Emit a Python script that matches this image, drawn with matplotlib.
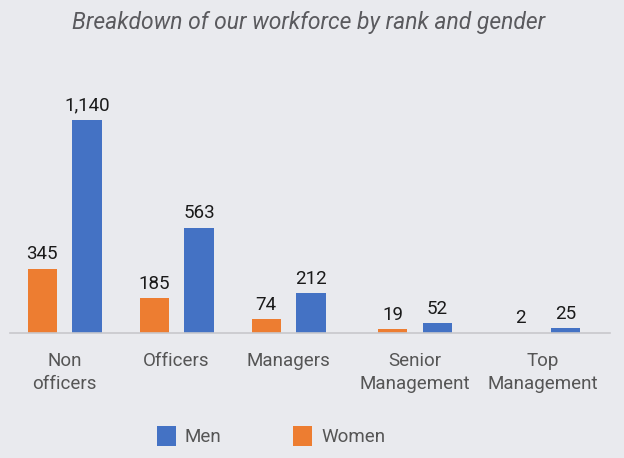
import matplotlib
matplotlib.use("Agg")
from matplotlib import pyplot as plt

# Data
categories = ["Non\nofficers", "Officers", "Managers", "Senior\nManagement", "Top\nManagement"]
women = [345, 185, 74, 19, 2]
men = [1140, 563, 212, 52, 25]

# category centres (uneven spacing as in the original)
positions = [0, 1, 2, 3.13, 4.27]

bg = "#E9EAEE"
blue = "#4472C4"
orange = "#ED7D31"
plt.rcParams['font.family'] = ['Roboto', 'DejaVu Sans']

fig = plt.figure(figsize=(6.24, 4.58), dpi=100, facecolor=bg)
ax = fig.add_axes([10 / 624, 125 / 458, 600 / 624, 273 / 458])
ax.set_facecolor(bg)

w = 0.26
xw = [p - 0.2 for p in positions]
xm = [p + 0.2 for p in positions]
bw = ax.bar(xw, women, width=w, color=orange, label="Women")
bm = ax.bar(xm, men, width=w, color=blue, label="Men")
ax.bar_label(bw, labels=[f"{v:,}" for v in women], padding=4, fontsize=13.5, color="#1a1a1a")
ax.bar_label(bm, labels=[f"{v:,}" for v in men], padding=4, fontsize=13.5, color="#1a1a1a")

ax.set_ylim(0, 1461)
ax.set_xlim(-0.487, 4.87)
ax.set_yticks([])
ax.set_xticks(positions)
ax.set_xticklabels(categories, fontsize=13.5, color="#555555", linespacing=1.3)
ax.tick_params(axis='x', length=0, pad=14)
for s in ['top', 'right', 'left']:
    ax.spines[s].set_visible(False)
ax.spines['bottom'].set_color("#C8C8CC")
ax.spines['bottom'].set_linewidth(1.2)

fig.text(309 / 624, 1 - 22 / 458, "Breakdown of our workforce by rank and gender",
         ha='center', va='center', fontsize=16.5, style='italic', color="#5A5A5E")

fig.legend(handles=[bm, bw], labels=["Men", "Women"], loc='center',
           bbox_to_anchor=(271 / 624, 1 - 436 / 458), ncol=2, frameon=False,
           fontsize=13.5, labelcolor="#555555", handlelength=1.0, handleheight=1.3,
           handletextpad=0.5, columnspacing=3.8)

fig.savefig("out.png", dpi=100, facecolor=bg)
